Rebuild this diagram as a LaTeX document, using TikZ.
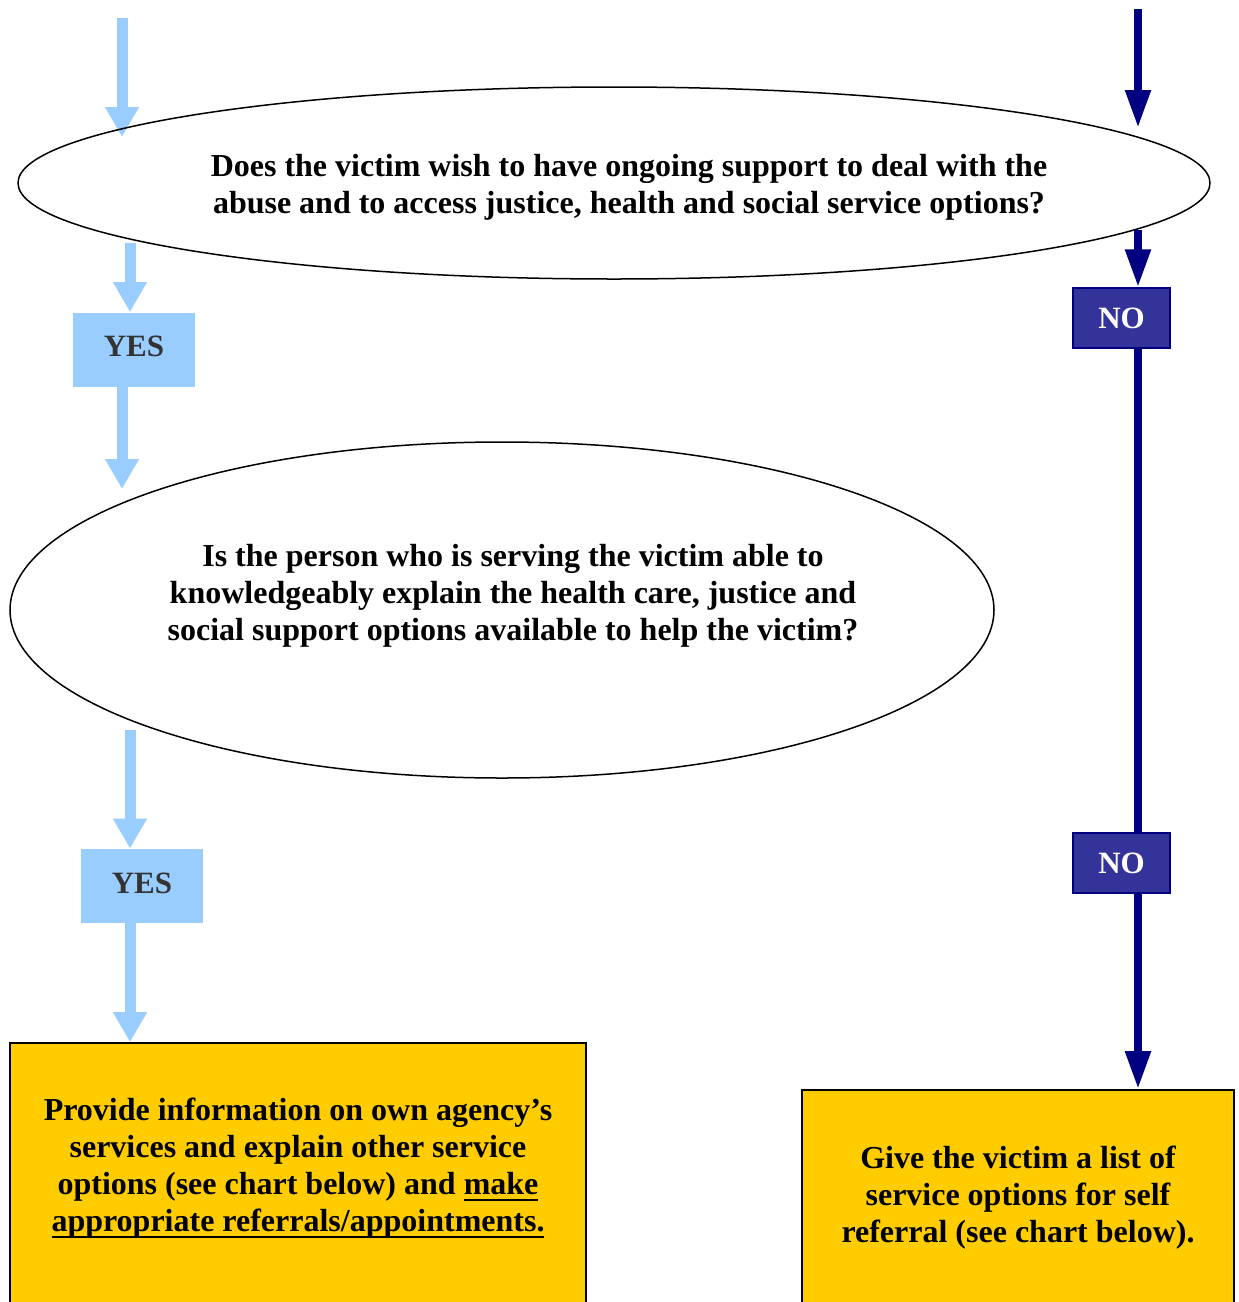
\documentclass[tikz,border=0pt]{standalone}
\usepackage{fontspec}
\setmainfont{Liberation Serif}
\newcommand\myul[1]{\setbox0\hbox{#1}\leavevmode\rlap{\rule[-3.6pt]{\wd0}{1.3pt}}\box0}
\usetikzlibrary{arrows.meta,shapes.geometric}
\definecolor{lblue}{HTML}{99CCFF}
\definecolor{navyc}{HTML}{000080}
\definecolor{nofill}{HTML}{333399}
\definecolor{yel}{HTML}{FFCC00}
\definecolor{yesfg}{HTML}{333333}
\begin{document}
\begin{tikzpicture}[x=0.5pt,y=-0.5pt,
  yesarrow/.style={draw=lblue, fill=lblue, line width=5.5pt, -{Triangle[width=16pt,length=15pt]}},
  noarrow/.style={draw=navyc, fill=navyc, line width=4pt, -{Triangle[width=12pt,length=19pt]}},
  noline/.style={draw=navyc, line width=4pt},
  question/.style={ellipse, draw=black, line width=0.75pt, inner sep=0pt},
  qtext/.style={align=center, font=\fontsize{16pt}{18.5pt}\selectfont\bfseries},
  yesbox/.style={rectangle, fill=lblue, inner sep=0pt, minimum width=61pt, minimum height=37pt, text=yesfg, font=\fontsize{15.5pt}{18pt}\selectfont\bfseries},
  nobox/.style={rectangle, fill=nofill, draw=navyc, line width=0.6pt, inner sep=0pt, minimum width=48.5pt, minimum height=30pt, text=white, font=\fontsize{15.5pt}{18pt}\selectfont\bfseries},
  actbox/.style={rectangle, fill=yel, draw=black, line width=0.8pt, inner sep=0pt}
]
\useasboundingbox (0,0) rectangle (1238,1302);
\clip (0,0) rectangle (1238,1302);

% coordinates for free ends
\coordinate (a1s) at (122,18);
\coordinate (a1e) at (122,137);
\coordinate (a2s) at (130,243);
\coordinate (a3e) at (122,489);
\coordinate (a4s) at (130,730);
\coordinate (n1s) at (1138,9);
\coordinate (n1e) at (1138,128);
\coordinate (n2s) at (1138,230);

% boxes
\node[yesbox] (yes1) at (134,349.5) {\raisebox{3pt}{YES}};
\node[yesbox] (yes2) at (142,886) {\raisebox{3pt}{YES}};
\node[nobox] (no1) at (1121.5,318) {NO};
\node[nobox] (no2) at (1121.5,863) {NO};
\node[actbox, minimum width=288pt, minimum height=138.5pt] (ly) at (298,1181.5) {};
\node[actbox, minimum width=216pt, minimum height=115pt] (ry) at (1018,1205) {};

% arrows
\draw[yesarrow] (a1s) -- (a1e);
\draw[yesarrow] (a2s) -- (yes1.north -| a2s);
\draw[yesarrow] (yes1.south -| a3e) -- (a3e);
\draw[yesarrow] (a4s) -- (yes2.north -| a4s);
\draw[yesarrow] (yes2.south -| a4s) -- (ly.north -| a4s);
\draw[noarrow] (n1s) -- (n1e);
\draw[noarrow] (n2s) -- (no1.north -| n2s);
\draw[noline] (no1.south -| n2s) -- (no2.north -| n2s);
\draw[noarrow] (no2.south -| n2s) -- (ry.north -| n2s);

% questions
\node[question, minimum width=596pt, minimum height=96pt] (q1) at (614,183) {};
\node[question, minimum width=492pt, minimum height=168pt] (q2) at (502,610) {};

\node[qtext] (t1) at (629,187) {Does the victim wish to have ongoing support to deal with the\\abuse and to access justice, health and social service options?};
\node[qtext] (t2) at (513,596) {Is the person who is serving the victim able to\\knowledgeably explain the health care, justice and\\social support options available to help the victim?};
\node[qtext] (t3) at (298,1168) {Provide information on own agency’s\\services and explain other service\\options (see chart below) and \myul{make}\\\myul{appropriate referrals/appointments.}};
\node[qtext] (t4) at (1018,1197.5) {Give the victim a list of\\service options for self\\referral (see chart below).};
\end{tikzpicture}
\end{document}
